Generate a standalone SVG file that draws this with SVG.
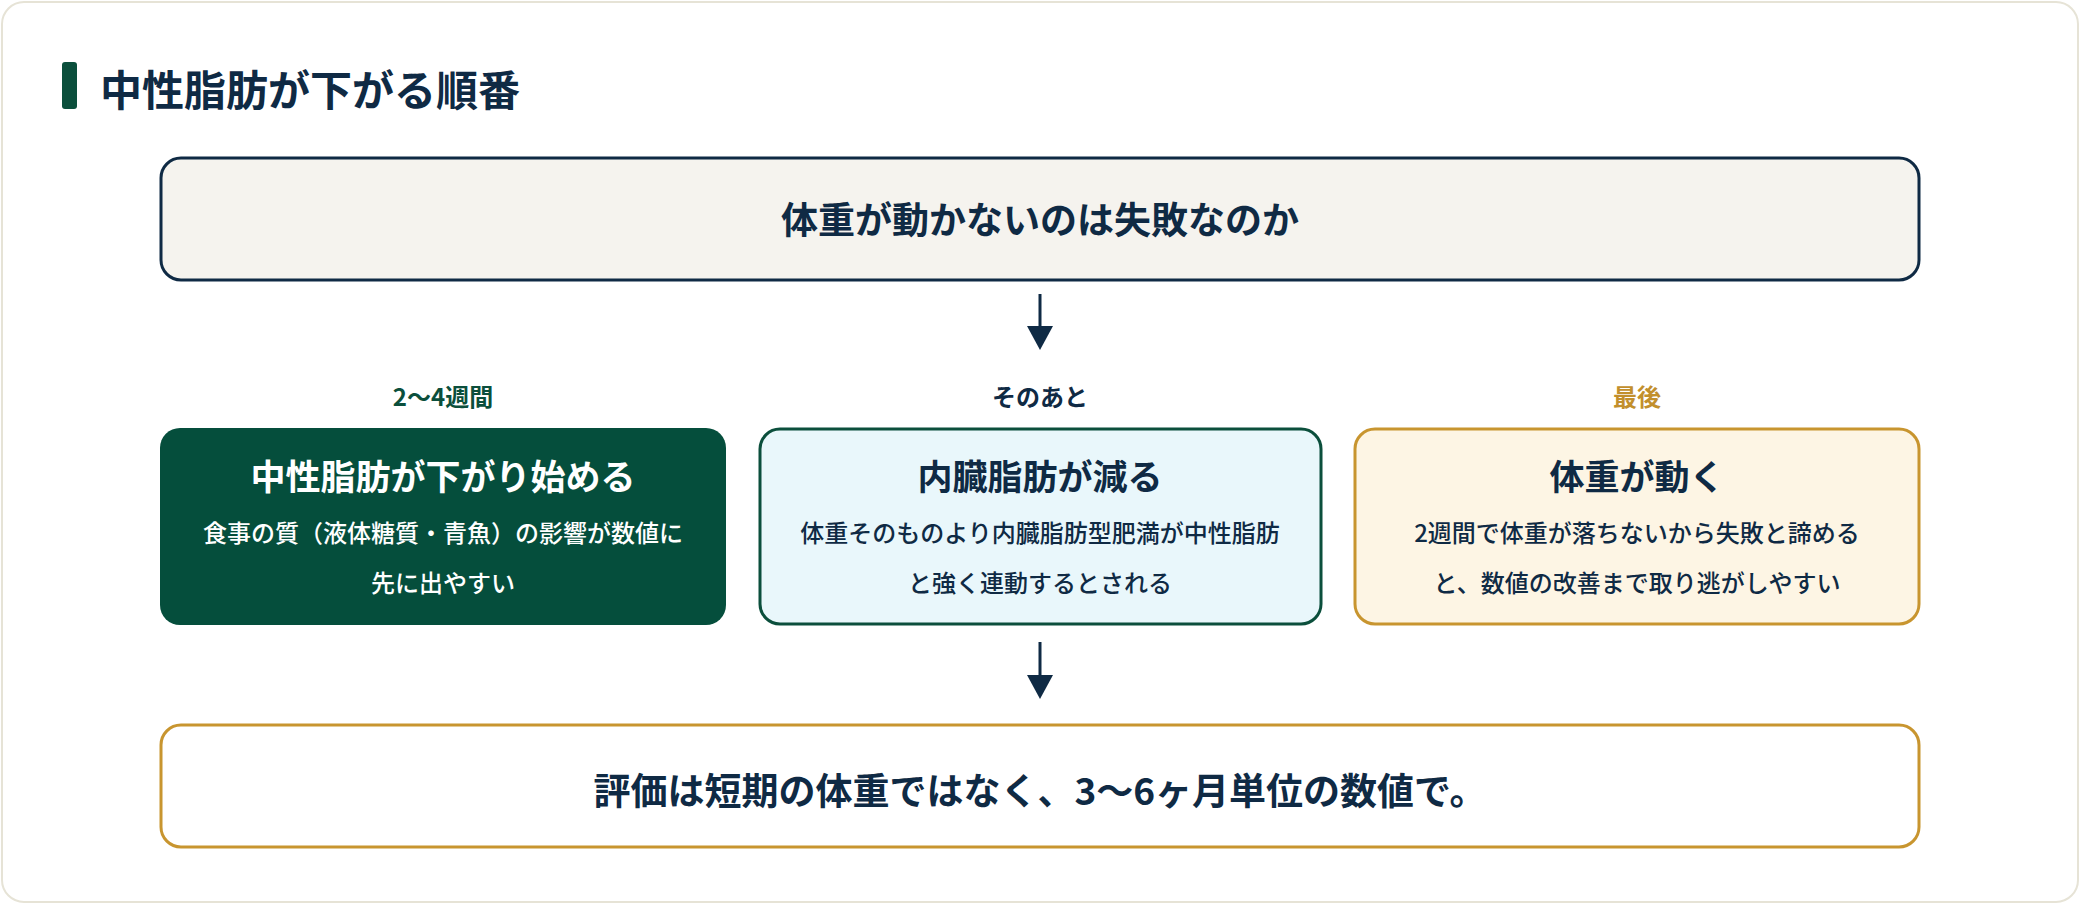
<svg xmlns="http://www.w3.org/2000/svg" width="2080" height="904" viewBox="0 0 2080 904">
<style>
text{font-family:"Noto Sans CJK JP","Noto Sans",sans-serif;font-weight:700;text-anchor:middle}
.h{font-size:35px}
.b{font-size:24px;font-weight:500}
.lab{font-size:24px}
</style>
<defs>
<marker id="ah" markerWidth="10" markerHeight="10" refX="5" refY="5" orient="auto" markerUnits="userSpaceOnUse" viewBox="0 0 10 10"><path d="M0,0 L10,5 L0,10 z" fill="#0f2a44"/></marker>
</defs>
<rect x="2" y="2" width="2076" height="900" rx="22" fill="#ffffff" stroke="#e6e3d6" stroke-width="2"/>
<g id="title">
<rect x="62" y="62" width="15" height="47" rx="3" fill="#0b4f3c"/>
<text x="100" y="106" style="font-size:42px;text-anchor:start" fill="#0f2a44">中性脂肪が下がる順番</text>
</g>
<g id="top">
<rect x="161" y="158" width="1758" height="122" rx="20" fill="#f5f3ee" stroke="#0f2a44" stroke-width="3"/>
<text x="1040" y="234" style="font-size:37px" fill="#0f2a44">体重が動かないのは失敗なのか</text>
</g>
<g id="labels">
<text class="lab" x="443" y="406" fill="#0b4f3c">2〜4週間</text>
<text class="lab" x="1040" y="406" fill="#0f2a44">そのあと</text>
<text class="lab" x="1637" y="406" fill="#c28f2c">最後</text>
</g>
<g id="n1">
<rect x="160" y="428" width="566" height="197" rx="20" fill="#054e3c"/>
<text class="h" x="443" y="490" fill="#ffffff">中性脂肪が下がり始める</text>
<text class="b" x="443" y="542" fill="#ffffff">食事の質（液体糖質・青魚）の影響が数値に</text>
<text class="b" x="443" y="592" fill="#ffffff">先に出やすい</text>
</g>
<g id="n2">
<rect x="760" y="429" width="561" height="195" rx="20" fill="#e9f7fb" stroke="#0b4f3c" stroke-width="3"/>
<text class="h" x="1040" y="490" fill="#0f2a44">内臓脂肪が減る</text>
<text class="b" x="1040" y="542" fill="#0f2a44">体重そのものより内臓脂肪型肥満が中性脂肪</text>
<text class="b" x="1040" y="592" fill="#0f2a44">と強く連動するとされる</text>
</g>
<g id="n3">
<rect x="1355" y="429" width="564" height="195" rx="20" fill="#fdf5e4" stroke="#c8952f" stroke-width="3"/>
<text class="h" x="1637" y="490" fill="#0f2a44">体重が動く</text>
<text class="b" x="1637" y="542" fill="#0f2a44">2週間で体重が落ちないから失敗と諦める</text>
<text class="b" x="1637" y="592" fill="#0f2a44">と、数値の改善まで取り逃がしやすい</text>
</g>
<g id="bottom">
<rect x="161" y="725" width="1758" height="122" rx="20" fill="#ffffff" stroke="#c8952f" stroke-width="3"/>
<text x="1040" y="805" style="font-size:37px" fill="#0f2a44">評価は短期の体重ではなく、3〜6ヶ月単位の数値で。</text>
</g>
<g id="connectors" stroke="#0f2a44" stroke-width="3">
<line x1="1040" y1="294" x2="1040" y2="338" marker-end="url(#ah)"/>
<line x1="1040" y1="642" x2="1040" y2="687" marker-end="url(#ah)"/>
</g>
<g fill="#0f2a44">
<path d="M1027,326 L1053,326 L1040,350 z"/>
<path d="M1027,675 L1053,675 L1040,699 z"/>
</g>
</svg>
